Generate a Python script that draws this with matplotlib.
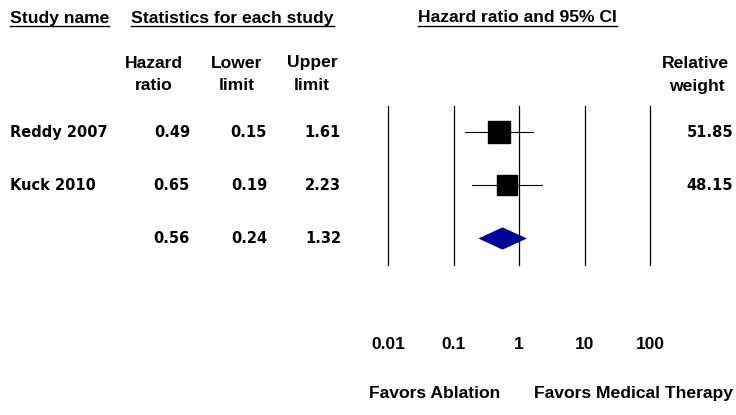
import matplotlib
matplotlib.use("Agg")
import matplotlib.pyplot as plt
import matplotlib.transforms as mtransforms
import numpy as np

plt.rcParams['font.family'] = ['Liberation Sans', 'DejaVu Sans']
plt.rcParams['font.weight'] = 'bold'

# data
studies = ['Reddy 2007', 'Kuck 2010', '']
hazard = [0.49, 0.65, 0.56]
lower = [0.15, 0.19, 0.24]
upper = [1.61, 2.23, 1.32]
weights = [51.85, 48.15]
ticks = [0.01, 0.1, 1, 10, 100]
tick_labels = ['0.01', '0.1', '1', '10', '100']

W, H = 736, 415
fig = plt.figure(figsize=(W / 100, H / 100), dpi=100)

# forest axes: 0.01 -> 388px, 100 -> 650px ; rows from 106px to 265px
ax = fig.add_axes([388 / W, 1 - 265 / H, (650 - 388) / W, (265 - 106) / H])
ax.set_xscale('log')
ax.set_xlim(0.01, 100)
ax.set_ylim(2.5, -0.5)
for s in ax.spines.values():
    s.set_visible(False)
ax.set_yticks([])
ax.set_xticks(ticks)
ax.set_xticklabels(tick_labels, fontsize=12.5, fontweight='bold')
ax.xaxis.set_minor_locator(matplotlib.ticker.NullLocator())
ax.tick_params(axis='x', length=0, pad=52)
ax.patch.set_alpha(0)

for t in ticks:
    ax.axvline(t, color='black', lw=0.9, clip_on=False)

# studies
for i in range(2):
    ax.plot([lower[i], upper[i]], [i, i], color='black', lw=0.8, zorder=3)
    ms = 15.2 * np.sqrt(weights[i] / weights[0])
    ax.plot(hazard[i], i, marker='s', color='black', ms=ms, zorder=4)

# summary diamond
yd = 2
ax.fill([lower[2], hazard[2], upper[2], hazard[2]],
        [yd, yd - 0.21, yd, yd + 0.21], color='#000099', zorder=4, lw=0)

# text columns (heavy font like the original)
tr = mtransforms.blended_transform_factory(fig.transFigure, ax.transData)
row = dict(fontsize=10.5, fontweight='bold', family='DejaVu Sans', va='center')
for i in range(3):
    fig.text(10 / W, i, studies[i], transform=tr, ha='left', **row)
    fig.text(190 / W, i, f'{hazard[i]:.2f}', transform=tr, ha='right', **row)
    fig.text(267 / W, i, f'{lower[i]:.2f}', transform=tr, ha='right', **row)
    fig.text(341 / W, i, f'{upper[i]:.2f}', transform=tr, ha='right', **row)
for i in range(2):
    fig.text(733 / W, i, f'{weights[i]:.2f}', transform=tr, ha='right', **row)

# headers
def px(x, y):
    return x / W, 1 - y / H

hdr = dict(fontsize=12.6, fontweight='bold', va='center')
for x, y, txt in [(10, 18, 'Study name'),
                  (131, 18, 'Statistics for each study'),
                  (418, 18, 'Hazard ratio and 95% CI')]:
    fig.text(*px(x, y), txt, ha='left', **hdr)

fig.canvas.draw()
r = fig.canvas.get_renderer()
for t in fig.texts[-3:]:
    bb = t.get_window_extent(r)
    fig.add_artist(plt.Line2D([bb.x0 / W, bb.x1 / W], [(H - 26) / H] * 2,
                              color='black', lw=1, transform=fig.transFigure))

for xc, l1, l2 in [(154, 'Hazard', 'ratio'), (237, 'Lower', 'limit'), (312, 'Upper', 'limit')]:
    fig.text(*px(xc, 63), l1, ha='center', **hdr)
    fig.text(*px(xc, 86), l2, ha='center', **hdr)
fig.text(*px(729, 63), 'Relative', ha='right', **hdr)
fig.text(*px(725, 86), 'weight', ha='right', **hdr)

fig.text(*px(435, 393), 'Favors Ablation', ha='center', **hdr)
fig.text(*px(733, 393), 'Favors Medical Therapy', ha='right', **hdr)

fig.savefig('out.png', dpi=100)
